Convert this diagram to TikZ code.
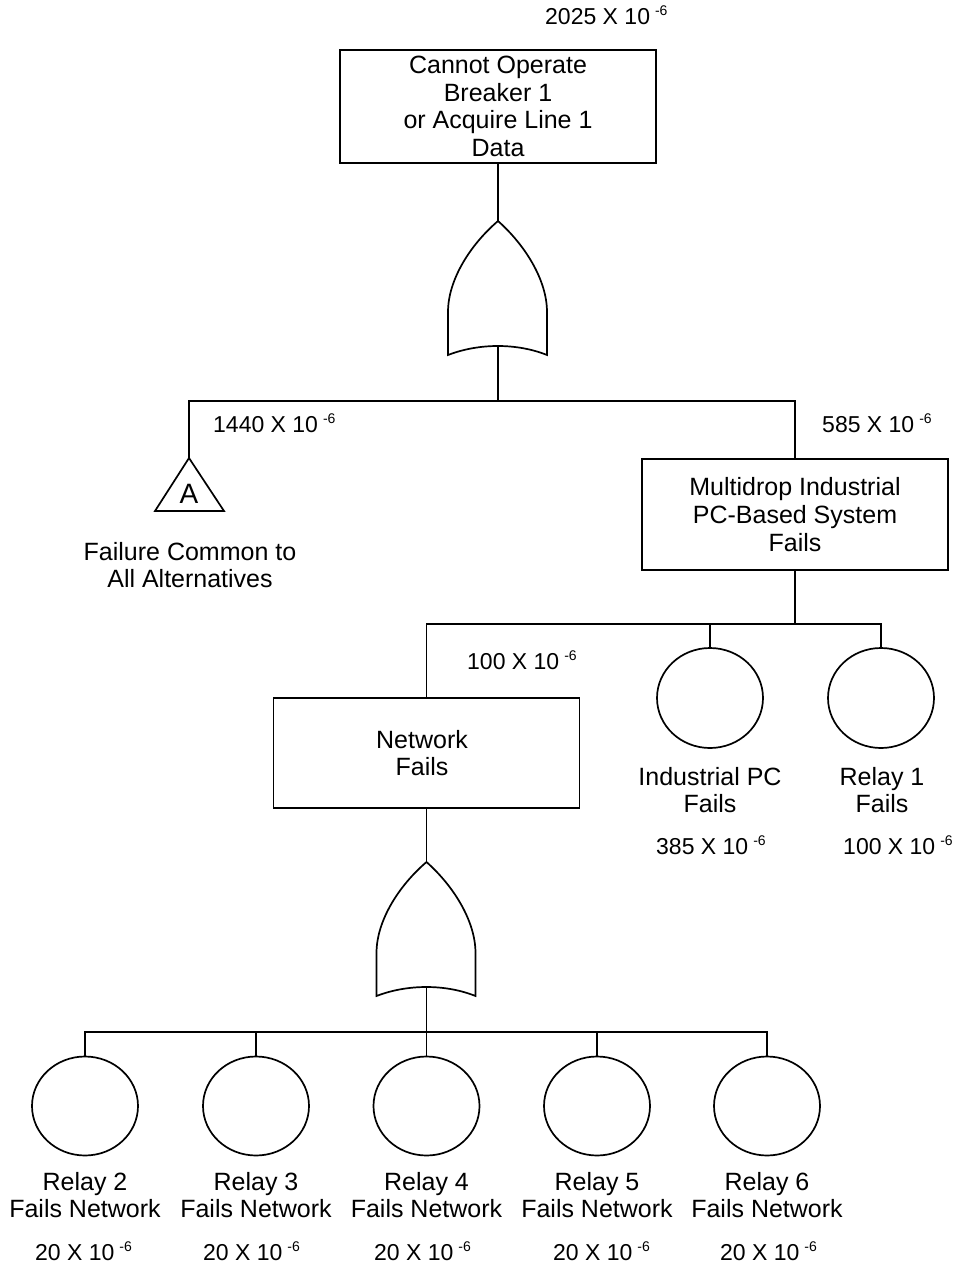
\documentclass[tikz,border=0pt]{standalone}
\usepackage{fontspec}
\setmainfont{Liberation Sans}
\usetikzlibrary{shapes.geometric}

% exponent "-6" set as a small raised figure after "10"
\newcommand{\expsix}{\hspace{5pt}\raisebox{9pt}{\fontsize{14}{14}\selectfont -6}}

\tikzset{
  every node/.style={font=\fontsize{25}{27.7}\selectfont},
  line/.style={line width=1.7pt},
  eventbox/.style={draw, line width=1.7pt, rectangle, minimum width=306pt,
                   minimum height=111pt, inner sep=0pt, align=center},
  basic/.style={draw, line width=1.7pt, ellipse, minimum width=106pt,
                minimum height=99pt, inner sep=0pt},
  caption/.style={align=center, inner sep=0pt},
  rate/.style={anchor=base west, inner sep=0pt, font=\fontsize{23}{23}\selectfont},
  orgate/.pic={
    \draw[line width=1.7pt]
      (0,0) .. controls (-28,24) and (-50,59) .. (-50,91) -- (-50,134)
      .. controls (-19,122) and (19,122) .. (49,134) -- (49,91)
      .. controls (49,59) and (27,24) .. (0,0) -- cycle;
    \coordinate (-in) at (0,0);
    \coordinate (-out) at (0,125);
  }
}

\begin{document}
\begin{tikzpicture}[x=1pt, y=-1pt]
\useasboundingbox (0,0) rectangle (959,1268);
\fill[white] (0,0) rectangle (959,1268);

% top event
\node[eventbox, minimum width=316pt, minimum height=113pt] (top) at (498,106.5)
  {Cannot Operate\\Breaker 1\\or Acquire Line 1\\Data};
\node[rate] (ptop) at (545,24.5) {2025 X 10\expsix};

% first OR gate
\pic (g1) at (498,221) {orgate};
\coordinate (j1) at (498,401);

% transfer triangle A
\coordinate (triTop) at (189,458);
\draw[line] (triTop) -- (155,511) -- (224,511) -- cycle;
\node[inner sep=0pt, font=\fontsize{28}{28}\selectfont] (triA) at (189,494) {A};
\node[caption] (common) at (190,565) {Failure Common to\\All Alternatives};
\node[rate] (pcommon) at (213,432) {1440 X 10\expsix};

% multidrop system
\node[eventbox] (multi) at (795,514.5)
  {Multidrop Industrial\\PC-Based System\\Fails};
\node[rate] (pmulti) at (822,432) {585 X 10\expsix};
\coordinate (j2) at (795,624);

% network
\node[eventbox, minimum height=110pt] (net) at (426.5,753) {};
\node[caption] (netl) at (422,753) {Network\\Fails};
\node[rate] (pnet) at (467,669) {100 X 10\expsix};

% basic events under the multidrop system
\node[basic, minimum height=100pt] (ipc) at (710,698) {};
\node[caption] (ipcl) at (710,790) {Industrial PC\\Fails};
\node[rate] (pipc) at (656,854.5) {385 X 10\expsix};

\node[basic, minimum height=100pt] (r1) at (881,698) {};
\node[caption] (r1l) at (882,790) {Relay 1\\Fails};
\node[rate] (pr1) at (843,854.5) {100 X 10\expsix};

% second OR gate
\pic (g2) at (426.5,862) {orgate};
\coordinate (j3) at (426.5,1032);

% relay events under the network gate
\foreach \n/\x/\px in {2/85/35, 3/256/203, 4/426.5/374, 5/597/553, 6/767/720} {
  \node[basic] (r\n) at (\x,1106) {};
  \node[caption] (r\n l) at (\x,1195) {Relay \n\\Fails Network};
  \node[rate] (pr\n) at (\px,1260) {20 X 10\expsix};
}

% connectors
\draw[line] (top.south) -- (g1-in);
\draw[line] (g1-out) -- (j1);
\draw[line] (triTop) |- (j1) -| (multi.north);
\draw[line] (multi.south) -- (j2);
\draw[line] (net.north) |- (j2) -| (r1.north);
\draw[line] (ipc.north) |- (j2);
\draw[line] (net.south) -- (g2-in);
\draw[line] (g2-out) -- (j3);
\draw[line] (r2.north) |- (j3) -| (r6.north);
\draw[line] (r3.north) |- (j3);
\draw[line] (r5.north) |- (j3);
\draw[line] (r4.north) -- (j3);
\end{tikzpicture}
\end{document}
